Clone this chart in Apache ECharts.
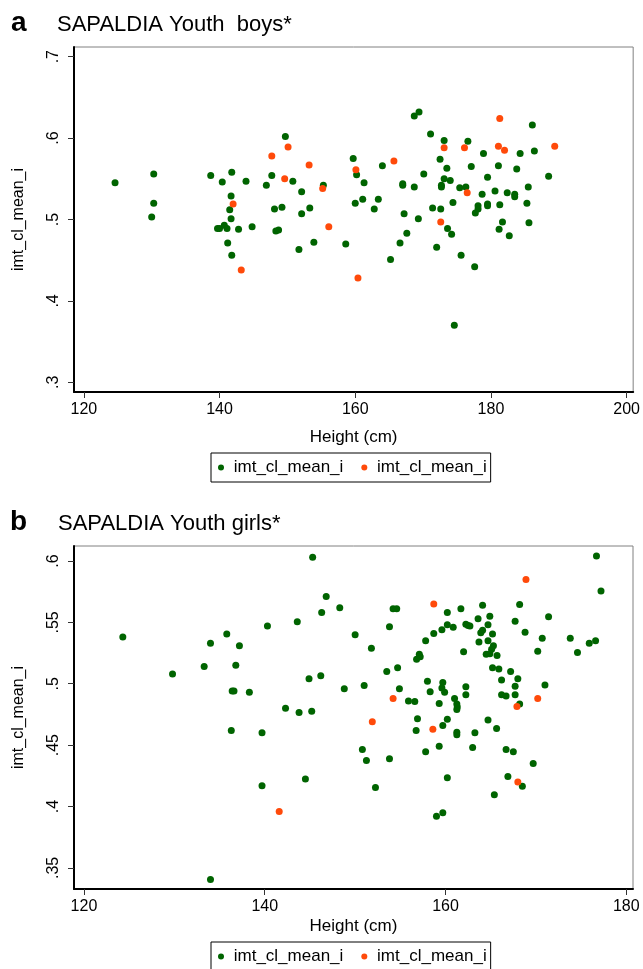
<!DOCTYPE html>
<html>
<head>
<meta charset="utf-8">
<script src="https://cdn.jsdelivr.net/npm/echarts@6/dist/echarts.min.js"></script>
<style>
html, body { margin: 0; padding: 0; background: #fff; }
#chart { width: 643px; height: 969px; }
</style>
</head>
<body>
<div id="chart"></div>
<script>
// panel a: boys, [height cm, imt]
var boysGreen = [
  [124.6,.545],[130.3,.556],[130.3,.520],[130.0,.503],[138.7,.554],[141.8,.558],[140.4,.546],[143.9,.547],
  [141.7,.529],[141.5,.512],[141.7,.501],[139.7,.489],[140.0,.489],[140.7,.493],[141.1,.489],[142.8,.488],
  [144.8,.491],[141.2,.471],[141.8,.456],
  [169.4,.632],[168.7,.627],[149.7,.602],[159.7,.575],[160.2,.555],[164.0,.566],[171.1,.605],[173.1,.597],
  [172.5,.574],[173.5,.563],[170.1,.556],[173.1,.550],[172.7,.542],[172.7,.540],[167.0,.544],[167.0,.542],
  [168.7,.540],[147.7,.554],[146.9,.542],[150.8,.547],[152.1,.534],[155.3,.542],[161.3,.545],[148.1,.513],
  [149.2,.515],[152.1,.507],[153.3,.514],[160.0,.520],[161.1,.525],[163.4,.525],[162.8,.513],[167.2,.507],
  [169.3,.501],[171.4,.514],[172.6,.513],[173.6,.489],[148.3,.486],[148.7,.487],[167.6,.483],[166.6,.471],
  [172.0,.466],[151.7,.463],[153.9,.472],[158.6,.470],[165.2,.451],
  [186.1,.616],[176.6,.596],[178.9,.581],[184.3,.581],[186.4,.584],[177.1,.565],[181.1,.566],[183.8,.562],
  [179.5,.552],[188.5,.553],[174.0,.548],[175.4,.539],[176.3,.540],[178.7,.531],[180.6,.535],[182.4,.533],
  [183.5,.531],[183.5,.528],[185.5,.540],[174.4,.521],[178.1,.517],[178.1,.513],[177.7,.508],[179.5,.519],
  [179.5,.517],[181.3,.518],[185.3,.520],[181.7,.497],[181.2,.488],[185.6,.496],[182.7,.480],[174.2,.482],
  [175.6,.456],[177.6,.442],[174.6,.370]
];
var boysOrange = [
  [142.0,.519],[143.2,.438],[150.1,.589],[147.7,.578],[153.2,.567],[160.1,.561],[165.7,.572],[173.1,.588],
  [149.6,.550],[155.2,.538],[172.6,.497],[156.1,.491],[160.4,.428],[181.3,.624],[176.1,.588],[181.1,.590],
  [182.0,.585],[189.4,.590],[176.5,.533]
];
// panel b: girls
var girlsGreen = [
  [124.3,.538],[129.8,.508],[134.0,.533],[135.8,.5405],[137.2,.531],[133.3,.514],[136.8,.515],[136.4,.494],
  [136.6,.494],[138.3,.493],[136.3,.462],[139.7,.460],[139.7,.417],[134.0,.3405],
  [145.3,.603],[146.8,.571],[148.3,.562],[146.3,.558],[154.2,.561],[154.6,.561],[160.2,.558],[140.3,.547],
  [143.6,.5505],[150.0,.540],[153.8,.5465],[159.6,.544],[160.2,.548],[151.8,.529],[158.7,.541],[157.8,.535],
  [157.1,.524],[157.2,.522],[156.8,.520],[154.7,.513],[153.5,.510],[144.9,.504],[146.2,.5065],[148.8,.496],
  [151.0,.4985],[154.9,.496],[155.9,.486],[156.6,.4855],[158.0,.502],[159.7,.501],[159.6,.4965],[159.9,.493],
  [158.3,.4935],[159.3,.484],[142.3,.480],[143.8,.4765],[145.2,.4775],[156.9,.4715],[156.75,.462],[159.7,.466],
  [160.2,.471],[150.8,.4465],[151.25,.4375],[153.8,.439],[157.8,.4445],[159.3,.449],[144.5,.4225],[152.25,.4155],
  [160.2,.4235],[159.0,.392],[159.7,.395],
  [176.7,.604],[177.2,.5755],[164.1,.564],[168.2,.5645],[161.7,.561],[164.9,.555],[163.6,.553],[171.4,.5545],
  [167.7,.551],[160.85,.546],[162.25,.5485],[162.5,.5475],[162.7,.547],[164.7,.548],[164.1,.5435],[163.9,.5415],
  [165.2,.5405],[168.8,.542],[170.7,.537],[173.8,.537],[176.6,.535],[175.9,.533],[162.0,.526],[163.7,.534],
  [164.7,.535],[165.3,.531],[165.1,.528],[164.9,.5245],[164.5,.524],[165.7,.523],[170.2,.5265],[174.6,.5255],
  [165.2,.513],[165.9,.512],[167.2,.510],[166.2,.503],[168.0,.504],[167.7,.498],[171.0,.499],[162.25,.4975],
  [162.25,.491],[161.0,.488],[161.25,.4835],[161.3,.481],[161.25,.479],[166.2,.491],[166.7,.490],[167.7,.491],
  [168.2,.4835],[164.7,.4705],[165.65,.4635],[161.25,.4605],[161.25,.4585],[163.25,.460],[163.0,.448],[166.7,.4465],
  [167.5,.4445],[169.7,.435],[166.9,.4245],[168.5,.4165],[165.4,.4095]
];
var girlsOrange = [
  [158.7,.565],[154.2,.488],[151.9,.469],[158.6,.463],[141.6,.396],[168.9,.585],[167.9,.4815],[170.2,.488],
  [168.0,.420]
];

var xTicksBoys = [120, 140, 160, 180, 200];
var yTicksBoys = [0.3, 0.4, 0.5, 0.6, 0.7];
var xTicksGirls = [120, 140, 160, 180];
var yTicksGirls = [0.35, 0.4, 0.45, 0.5, 0.55, 0.6];
var seriesLabel = 'imt_cl_mean_i';
var xName = 'Height (cm)';

var FONT = 'Liberation Sans, Arial, sans-serif';
var GREEN = '#006400';
var ORANGE = '#ff4a0a';

function dotLabel(v) {
  return String(+(+v).toFixed(2)).replace(/^0/, '');
}

function xAxis(gi, min, max, ticks, gap) {
  return {
    type: 'value', gridIndex: gi, min: min, max: max,
    name: xName, nameLocation: 'middle', nameGap: gap,
    nameTextStyle: { fontFamily: FONT, fontSize: 17, color: '#000' },
    axisLine: { show: true, onZero: false, lineStyle: { color: '#000', width: 2 } },
    axisTick: { show: true, length: 6, customValues: ticks, lineStyle: { color: '#333' } },
    axisLabel: { customValues: ticks, margin: 10, fontFamily: FONT, fontSize: 16, color: '#000' },
    splitLine: { show: false }
  };
}

function yAxis(gi, min, max, ticks) {
  return {
    type: 'value', gridIndex: gi, min: min, max: max,
    name: seriesLabel, nameLocation: 'middle', nameGap: 47,
    nameTextStyle: { fontFamily: FONT, fontSize: 16, color: '#000' },
    axisLine: { show: true, onZero: false, lineStyle: { color: '#000', width: 2 } },
    axisTick: { show: true, length: 6, customValues: ticks, lineStyle: { color: '#333' } },
    axisLabel: { customValues: ticks, rotate: 90, margin: 12, fontFamily: FONT, fontSize: 16, color: '#000',
                 formatter: dotLabel },
    splitLine: { show: false }
  };
}

function scatter(name, gi, data, color) {
  return {
    name: name, type: 'scatter', xAxisIndex: gi, yAxisIndex: gi,
    data: data, symbol: 'circle', symbolSize: 7,
    itemStyle: { color: color, opacity: 1 },
    emphasis: { disabled: true }
  };
}

function legend(top, names) {
  return {
    data: names, left: 211, top: top, orient: 'horizontal',
    icon: 'circle', itemWidth: 6, itemHeight: 6, itemGap: 18,
    padding: [5, 4, 5, 7],
    borderColor: '#000', borderWidth: 1,
    selectedMode: false,
    formatter: function () { return ' ' + seriesLabel; },
    textStyle: { fontFamily: FONT, fontSize: 17, color: '#000', lineHeight: 19 }
  };
}

function label(x, y, text, font) {
  return { type: 'text', x: x, y: y, style: { text: text, font: font, fill: '#000', verticalAlign: 'middle' } };
}

var myChart = echarts.init(document.getElementById('chart'), null, { renderer: 'canvas' });

var option = {
  animation: false,
  backgroundColor: '#fff',
  grid: [
    { left: 74, top: 47, width: 561, height: 345, show: true, borderColor: '#808080', borderWidth: 1,
      backgroundColor: '#fff', containLabel: false },
    { left: 74, top: 546, width: 559, height: 343, show: true, borderColor: '#808080', borderWidth: 1,
      backgroundColor: '#fff', containLabel: false }
  ],
  xAxis: [
    xAxis(0, 118.55, 200.96, xTicksBoys, 37),
    xAxis(1, 118.90, 180.74, xTicksGirls, 29)
  ],
  yAxis: [
    yAxis(0, 0.2881, 0.7119, yTicksBoys),
    yAxis(1, 0.3328, 0.6122, yTicksGirls)
  ],
  legend: [
    legend(453, ['boysG', 'boysO']),
    legend(942, ['girlsG', 'girlsO'])
  ],
  graphic: [
    label(11, 23, 'a', 'bold 28px ' + FONT),
    label(57, 24.5, 'SAPALDIA Youth  boys*', '22px ' + FONT),
    label(10, 522, 'b', 'bold 28px ' + FONT),
    label(58, 523.5, 'SAPALDIA Youth girls*', '22px ' + FONT)
  ],
  series: [
    scatter('boysG', 0, boysGreen, GREEN),
    scatter('boysO', 0, boysOrange, ORANGE),
    scatter('girlsG', 1, girlsGreen, GREEN),
    scatter('girlsO', 1, girlsOrange, ORANGE)
  ]
};

myChart.setOption(option);
</script>
</body>
</html>
